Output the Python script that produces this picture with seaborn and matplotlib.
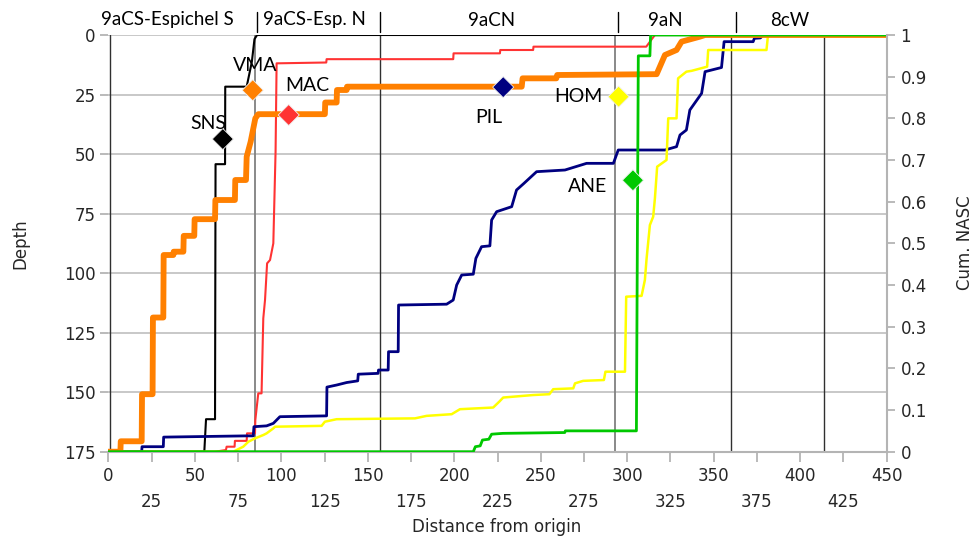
import numpy as np
import pandas as pd
import matplotlib
matplotlib.use("Agg")
import matplotlib.pyplot as plt
import matplotlib.transforms as mtrans
from matplotlib.ticker import FixedLocator, FuncFormatter
import seaborn as sns

# ---------------- data ----------------
species = ["SNS", "VMA", "MAC", "PIL", "HOM", "ANE"]

sns_x = [0, 55.5, 56.5, 61.7, 62.0, 67.5, 67.6, 80, 83, 84.5, 86, 450]
sns_y = [0, 0, 0.078, 0.078, 0.69, 0.69, 0.876, 0.876, 0.936, 0.99, 1.0, 1.0]

vma_x = [0, 7, 7.2, 19.3, 19.5, 25.6, 25.8, 31.8, 32, 37.6, 37.8, 43.4, 43.6,
         49.7, 49.9, 61.7, 61.9, 73.2, 73.4, 79.6, 80, 82.3, 85, 86.7, 125.2,
         125.4, 132, 132.2, 137.8, 138, 239, 239.5, 259, 259.5, 317, 321.8,
         328.5, 331.4, 342, 345, 450]
vma_y = [0, 0, 0.025, 0.025, 0.138, 0.138, 0.322, 0.322, 0.472, 0.472, 0.48,
         0.48, 0.518, 0.518, 0.558, 0.558, 0.604, 0.604, 0.652, 0.652, 0.708,
         0.744, 0.80, 0.81, 0.81, 0.838, 0.838, 0.868, 0.868, 0.876, 0.876,
         0.896, 0.896, 0.904, 0.906, 0.952, 0.964, 0.984, 0.996, 1.0, 1.0]

mac_x = [0, 61.7, 68, 68.4, 73, 73.2, 80, 80.2, 84.8, 85, 86.7, 88.6, 89.6,
         90.6, 91.8, 93.5, 95.4, 96.7, 97.3, 126, 126.2, 199.4, 199.6, 226.4,
         226.6, 245.6, 245.8, 311, 316, 450]
mac_y = [0, 0, 0.004, 0.012, 0.012, 0.026, 0.026, 0.044, 0.044, 0.076, 0.14,
         0.14, 0.32, 0.364, 0.452, 0.46, 0.5, 0.72, 0.932, 0.934, 0.942, 0.942,
         0.956, 0.956, 0.964, 0.964, 0.972, 0.972, 1.0, 1.0]

pil_x = [0, 19.3, 19.5, 31.8, 32, 80, 83.8, 84.2, 91.5, 95.4, 99.2, 126.2,
         126.4, 132, 137.8, 144.2, 144.5, 156, 156.2, 161.8, 162, 167.6, 167.8,
         195.6, 199.4, 201.4, 204.3, 211, 212.5, 215.8, 220.6, 221.6, 224.5,
         233.2, 236, 240.3, 247.6, 264, 276.5, 292, 294.8, 321.8, 328.5, 330.5,
         334.2, 336.2, 343, 345, 354.5, 356, 372.8, 373.5, 377, 378.6, 450]
pil_y = [0, 0, 0.012, 0.012, 0.035, 0.038, 0.038, 0.06, 0.062, 0.068, 0.084,
         0.086, 0.155, 0.16, 0.166, 0.17, 0.186, 0.188, 0.196, 0.196, 0.24,
         0.24, 0.352, 0.354, 0.364, 0.4, 0.424, 0.426, 0.464, 0.492, 0.494,
         0.556, 0.576, 0.588, 0.628, 0.644, 0.672, 0.676, 0.692, 0.692, 0.724,
         0.724, 0.732, 0.76, 0.772, 0.82, 0.86, 0.912, 0.922, 0.984, 0.984,
         0.992, 0.993, 1.0, 1.0]

hom_x = [0, 72.3, 78, 81, 84.8, 89.6, 91.5, 95.4, 96.4, 123.3, 125.2, 132,
         177.3, 184, 198.5, 203.3, 222.5, 226, 228.3, 245.6, 255, 257.2, 268.8,
         269.8, 274.5, 286.5, 287.4, 298.7, 299.4, 308.3, 310.2, 311.2, 313.1,
         315, 316, 317.3, 322.7, 323.7, 328.5, 329.4, 334.2, 337.2, 346.2,
         346.8, 380.5, 381.4, 450]
hom_y = [0, 0, 0.012, 0.024, 0.032, 0.04, 0.044, 0.056, 0.06, 0.062, 0.072,
         0.078, 0.08, 0.086, 0.09, 0.102, 0.106, 0.12, 0.13, 0.136, 0.138,
         0.15, 0.152, 0.164, 0.17, 0.172, 0.192, 0.192, 0.372, 0.374, 0.412,
         0.464, 0.544, 0.564, 0.608, 0.684, 0.7, 0.8, 0.8, 0.896, 0.912, 0.914,
         0.924, 0.964, 0.964, 1.0, 1.0]

ane_x = [0, 211, 212.2, 215, 216.3, 220, 221.6, 228, 263.9, 264.2, 305.3,
         306.4, 313.1, 313.5, 450]
ane_y = [0, 0, 0.012, 0.014, 0.028, 0.03, 0.042, 0.044, 0.046, 0.05, 0.05,
         0.95, 0.95, 1.0, 1.0]

# mean distance / mean depth markers
marker_x = [66.2, 83.5, 104.3, 228.3, 295.0, 303.3]
marker_depth = [43.7, 23.2, 33.6, 21.9, 25.9, 61.0]

# region boundaries and labels
region_lines = [1, 85, 157, 293, 360, 414]
region_names = ["9aCS-Espichel S", "9aCS-Esp. N", "9aCN", "9aN", "8cW"]

depth_ticks = [0, 25, 50, 75, 100, 125, 150, 175]
cum_ticks = [0, 0.1, 0.2, 0.3, 0.4, 0.5, 0.6, 0.7, 0.8, 0.9, 1]
x_major = [0, 50, 100, 150, 200, 250, 300, 350, 400, 450]
x_minor = [25, 75, 125, 175, 225, 275, 325, 375, 425]

# ---------------- styling ----------------
colors = {"SNS": "#000000", "VMA": "#FF8000", "MAC": "#FF3333",
          "PIL": "#000080", "HOM": "#FFFF00", "ANE": "#00C800"}
widths = {"SNS": 1.5, "VMA": 4.2, "MAC": 1.5, "PIL": 2.0, "HOM": 1.8, "ANE": 2.0}
draw_order = ["MAC", "SNS", "PIL", "HOM", "VMA", "ANE"]

curves = {"SNS": (sns_x, sns_y), "VMA": (vma_x, vma_y), "MAC": (mac_x, mac_y),
          "PIL": (pil_x, pil_y), "HOM": (hom_x, hom_y), "ANE": (ane_x, ane_y)}
df = pd.concat([pd.DataFrame({"x": cx, "cum": cy, "species": k})
                for k, (cx, cy) in curves.items()], ignore_index=True)
mdf = pd.DataFrame({"x": marker_x, "depth": marker_depth, "species": species})

sns.set_style("white")
plt.rcParams["font.family"] = ["DejaVu Sans"]
LBL_FONT = ["Lato", "DejaVu Sans"]

W, H = 976, 539
fig = plt.figure(figsize=(W / 100, H / 100), dpi=100)
L, R, T, B = 108.3, 886.7, 35.0, 451.7
ax = fig.add_axes([L / W, 1 - B / H, (R - L) / W, (B - T) / H])

GRID = "#c8c8c8"
AXC = "#b4b4b4"

# depth axis (left)
ax.set_xlim(0, 450)
ax.set_ylim(175, 0)
ax.yaxis.set_major_locator(FixedLocator(depth_ticks))
ax.xaxis.set_major_locator(FixedLocator(x_major))
ax.xaxis.set_minor_locator(FixedLocator(x_minor))
ax.xaxis.set_major_formatter(FuncFormatter(lambda v, p: f"{v:g}"))
ax.xaxis.set_minor_formatter(FuncFormatter(lambda v, p: f"{v:g}"))
ax.grid(axis="y", color=GRID, lw=1.4)
ax.grid(axis="x", visible=False)
for s in ["top", "left", "right"]:
    ax.spines[s].set_visible(False)
ax.spines["bottom"].set_color(AXC)
ax.spines["bottom"].set_linewidth(1.5)
ax.tick_params(axis="x", which="both", bottom=True, length=7, width=1.3,
               color=AXC, labelsize=12, direction="out")
ax.tick_params(axis="x", which="major", pad=4)
ax.tick_params(axis="x", which="minor", pad=23)
ax.tick_params(axis="y", left=True, length=6, width=1.3, color=AXC,
               labelsize=12, pad=3, direction="out")

for xv in region_lines:
    c = "#808080" if xv in (85, 293) else "#303030"
    ax.axvline(xv, color=c, lw=1.3 if xv in (85, 293) else 1.0, zorder=1)

# cumulative NASC axis (right) with the curves
ax2 = ax.twinx()
sns.lineplot(data=df, x="x", y="cum", hue="species", size="species",
             hue_order=draw_order, size_order=draw_order, palette=colors,
             sizes=widths, sort=False, estimator=None, legend=False, ax=ax2)
ax2.set_xlim(0, 450)
ax2.set_ylim(0, 1)
ax2.set_xlabel("")
ax2.set_ylabel("")
ax2.yaxis.set_major_locator(FixedLocator(cum_ticks))
ax2.yaxis.set_major_formatter(FuncFormatter(lambda v, p: f"{v:g}"))
for s in ["top", "left", "bottom"]:
    ax2.spines[s].set_visible(False)
ax2.spines["right"].set_color(AXC)
ax2.spines["right"].set_linewidth(1.5)
ax2.tick_params(axis="y", right=True, length=6, width=1.3, color=AXC,
                labelsize=12, pad=4, direction="out")
ax2.grid(False)

# markers on depth scale, on top
ax3 = ax.twinx()
ax3.set_ylim(175, 0)
ax3.set_xlim(0, 450)
sns.scatterplot(data=mdf, x="x", y="depth", hue="species", palette=colors,
                marker="D", s=115, linewidth=0.6, edgecolor="#f0f0f0",
                legend=False, ax=ax3, zorder=5)
ax3.set_axis_off()

label_pos = {"SNS": (57.6, 37.3), "VMA": (85.1, 12.6), "MAC": (115.1, 21.0),
             "PIL": (220.1, 34.8), "HOM": (271.5, 26.0), "ANE": (277.0, 63.6)}
for name in species:
    lx, ly = label_pos[name]
    ax3.text(lx, ly, name, ha="center", va="center", fontsize=14,
             family=LBL_FONT, color="#000000", zorder=6)

# region labels across the top
blend = mtrans.blended_transform_factory(ax.transData, ax.transAxes)
def ay(py):
    return (B - py) / (B - T)
label_x = [34.2, 119.3, 221.7, 322.0, 394.0]
for nm, lx in zip(region_names, label_x):
    ax.text(lx, ay(25.5), nm, transform=blend, ha="center", va="baseline",
            fontsize=13.5, family=LBL_FONT, color="#000000", clip_on=False)
sep_x = [86, 157, 294.5, 363]
for sx in sep_x:
    ax.plot([sx, sx], [ay(12), ay(32)], transform=blend, color="#000000",
            lw=1.0, clip_on=False)

# axis titles
fig.text(497 / W, 1 - 527 / H, "Distance from origin", ha="center",
         va="center", fontsize=12)
fig.text(20 / W, 1 - 244 / H, "Depth", rotation=90, ha="center",
         va="center", fontsize=12)
fig.text(965 / W, 1 - 243 / H, "Cum. NASC", rotation=90, ha="center",
         va="center", fontsize=12)

fig.savefig("out.png", dpi=100, facecolor="white")
